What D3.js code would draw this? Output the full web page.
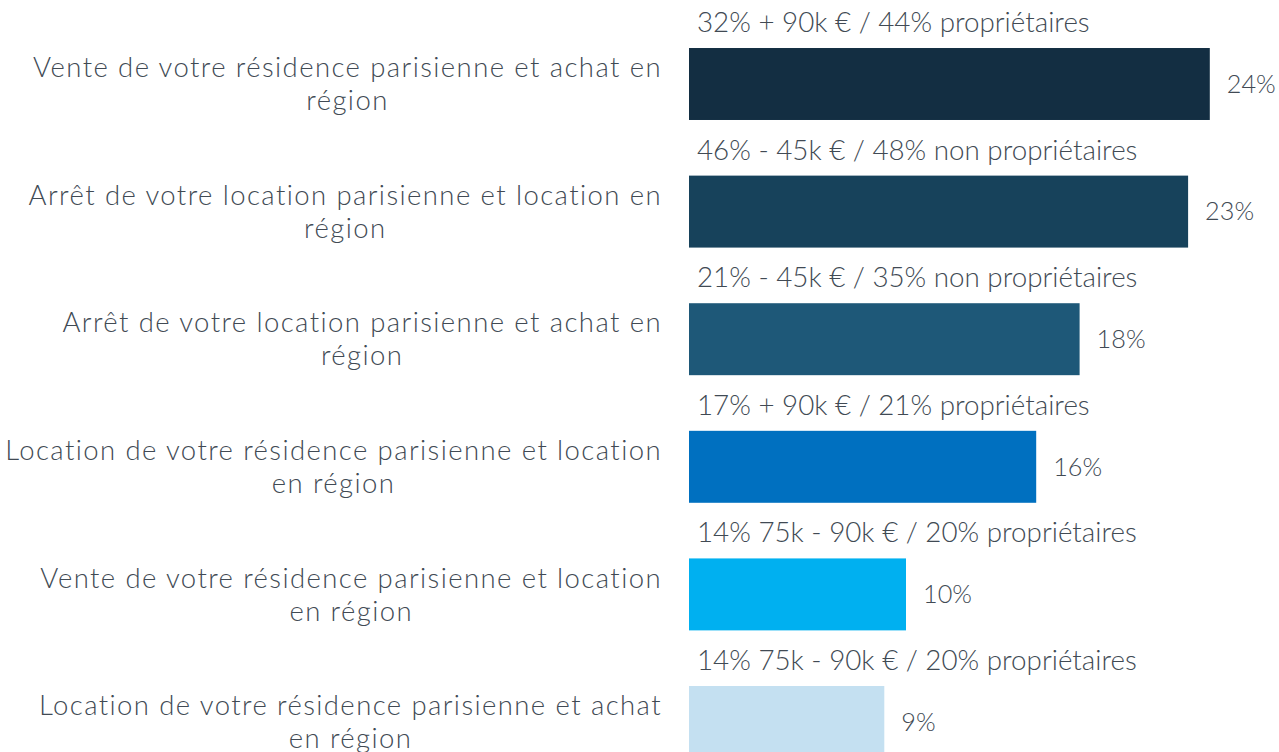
<!DOCTYPE html>
<html>
<head>
<meta charset="utf-8">
<script src="https://cdn.jsdelivr.net/npm/d3@7"></script>
<style>
  html, body { margin: 0; padding: 0; background: #fff; overflow: hidden; }
  svg { display: block; }
  text { font-family: "Lato", "Open Sans", sans-serif; font-weight: 300; fill: #414a54;
         font-variant-ligatures: none; font-feature-settings: "liga" 0; }
</style>
</head>
<body>
<svg id="chart" width="1279" height="752"></svg>
<script>
const categories = [
  "Vente de votre résidence parisienne et achat en\nrégion",
  "Arrêt de votre location parisienne et location en\nrégion",
  "Arrêt de votre location parisienne et achat en\nrégion",
  "Location de votre résidence parisienne et location\nen région",
  "Vente de votre résidence parisienne et location\nen région",
  "Location de votre résidence parisienne et achat\nen région"
];
const values = [24, 23, 18, 16, 10, 9];
const valueLabels = ["24%", "23%", "18%", "16%", "10%", "9%"];
const annotations = [
  "32% + 90k € / 44% propriétaires",
  "46% - 45k € / 48% non propriétaires",
  "21% - 45k € / 35% non propriétaires",
  "17% + 90k € / 21% propriétaires",
  "14% 75k - 90k € / 20% propriétaires",
  "14% 75k - 90k € / 20% propriétaires"
];
const colors = ["#132e42", "#17425b", "#1e5878", "#0070c0", "#00b0f0", "#c4e0f1"];

const svg = d3.select("#chart");

const x = d3.scaleLinear().domain([0, 24]).range([689, 1209.8]);
const y = d3.scaleBand().domain(categories).range([20.2, 785.8])
  .paddingInner(0.436).paddingOuter(0.218);

function measure(str, size, ls) {
  const probe = svg.append("text").attr("font-size", size)
    .style("letter-spacing", (ls || 0) + "px").text(str);
  const w = probe.node().getComputedTextLength();
  probe.remove();
  return w;
}
function fit(str, target) { return 100 * target / measure(str, 100, 0); }

// category labels: fixed size, letter-spacing widened to match reference width
const fs = 27.5;
const firstLine = categories[0].split("\n")[0];
const baseW = measure(firstLine, fs, 0);
const ls = (629 - baseW) / firstLine.length;
const fsAnn = fit(annotations[0], 393);
const fsVal = fit(valueLabels[0], 49);

// bars
svg.selectAll("rect.bar").data(categories).join("rect")
  .attr("class", "bar")
  .attr("x", x(0))
  .attr("y", d => y(d))
  .attr("width", (d, i) => x(values[i]) - x(0))
  .attr("height", y.bandwidth())
  .attr("fill", (d, i) => colors[i]);

// value labels
svg.selectAll("text.val").data(categories).join("text")
  .attr("class", "val")
  .attr("x", (d, i) => x(values[i]) + 17)
  .attr("y", d => y(d) + y.bandwidth() / 2)
  .attr("dy", "0.35em")
  .attr("font-size", fsVal)
  .text((d, i) => valueLabels[i]);

// annotations above bars
svg.selectAll("text.ann").data(categories).join("text")
  .attr("class", "ann")
  .attr("x", x(0) + 8)
  .attr("y", d => y(d) - 16)
  .attr("font-size", fsAnn)
  .text((d, i) => annotations[i]);

// category labels: block right-aligned, lines centered within
const lineH = 33;
categories.forEach((c, i) => {
  const lines = c.split("\n");
  const g = svg.append("g");
  const ts = lines.map(l => g.append("text").attr("font-size", fs)
    .style("letter-spacing", ls + "px").text(l));
  const maxW = d3.max(ts, t => t.node().getComputedTextLength());
  const cx = 662 - maxW / 2;
  const cy = y(c) + y.bandwidth() / 2;
  const n = lines.length;
  ts.forEach((t, k) => {
    t.attr("x", cx).attr("text-anchor", "middle")
     .attr("y", cy + (k - (n - 1) / 2) * lineH)
     .attr("dy", "0.35em");
  });
});
</script>
</body>
</html>
